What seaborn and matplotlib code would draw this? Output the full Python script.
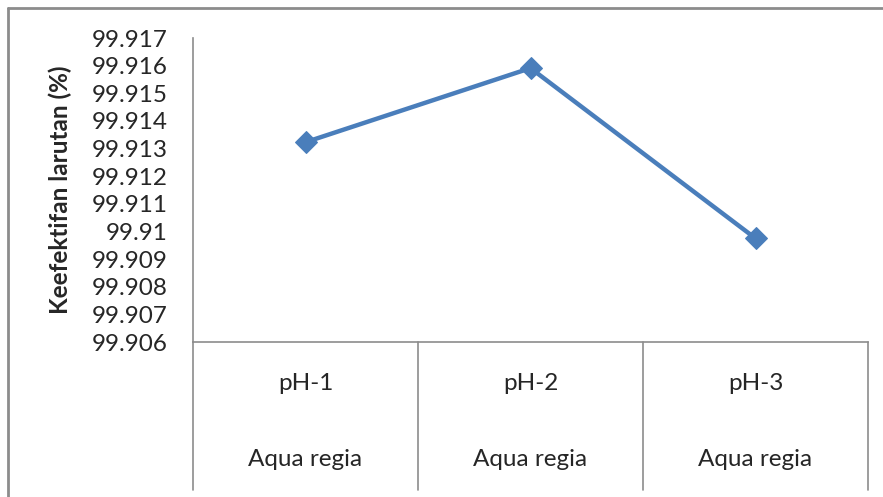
import pandas as pd
import seaborn as sns
import matplotlib.pyplot as plt
import matplotlib.transforms as mtransforms

categories = ['pH-1', 'pH-2', 'pH-3']
solvent = ['Aqua regia', 'Aqua regia', 'Aqua regia']
effectiveness = [99.91323, 99.91591, 99.90975]
yticks = [99.906, 99.907, 99.908, 99.909, 99.910, 99.911,
          99.912, 99.913, 99.914, 99.915, 99.916, 99.917]

df = pd.DataFrame({'pH': categories, 'Keefektifan': effectiveness})

sns.set_style('white')
plt.rcParams['font.family'] = ['Lato', 'DejaVu Sans']

W, H = 883, 497
fig = plt.figure(figsize=(W / 100, H / 100), dpi=100)
grey = '#8c8c8c'

# outer chart border (top and left visible)
fig.add_artist(plt.Line2D([8 / W, 1], [1 - 8 / H, 1 - 8 / H], color=grey, lw=2))
fig.add_artist(plt.Line2D([8 / W, 8 / W], [1 - 8 / H, 0], color=grey, lw=2))

ax = fig.add_axes([193 / W, (H - 342) / H, 675 / W, 304 / H])
sns.lineplot(data=df, x='pH', y='Keefektifan', marker='D', markersize=11,
             color='#4a7ebb', linewidth=3.2, markeredgecolor='#4a7ebb',
             sort=False, ax=ax)

ax.set_xlim(-0.5, 2.5)
ax.set_ylim(yticks[0], yticks[-1])
ax.set_yticks(yticks)
ax.set_yticklabels([f'{v:.3f}'.rstrip('0') for v in yticks], fontsize=17.5)
ax.tick_params(axis='y', length=0, pad=18)
ax.set_xticks([])
ax.set_xlabel('')
ax.set_ylabel('')
for s in ['top', 'right']:
    ax.spines[s].set_visible(False)
for s in ['left', 'bottom']:
    ax.spines[s].set_color(grey)
    ax.spines[s].set_linewidth(1.2)

# category table below the plot area
trans = mtransforms.blended_transform_factory(ax.transData, ax.transAxes)
bottom = -(490 - 342) / 304
for xv in [-0.5, 0.5, 1.5, 2.5]:
    ax.plot([xv, xv], [0, bottom], transform=trans, color=grey, lw=1.2, clip_on=False)
for i, (c, s) in enumerate(zip(categories, solvent)):
    ax.text(i, -(383 - 342) / 304, c, transform=trans, ha='center', va='center', fontsize=17.5)
    ax.text(i, -(460 - 342) / 304, s, transform=trans, ha='center', va='center', fontsize=17.5)

fig.text(60 / W, 1 - 190 / H, 'Keefektifan larutan (%)', rotation=90,
         ha='center', va='center', fontsize=17.5, fontweight='bold')

fig.savefig('out.png', dpi=100)
